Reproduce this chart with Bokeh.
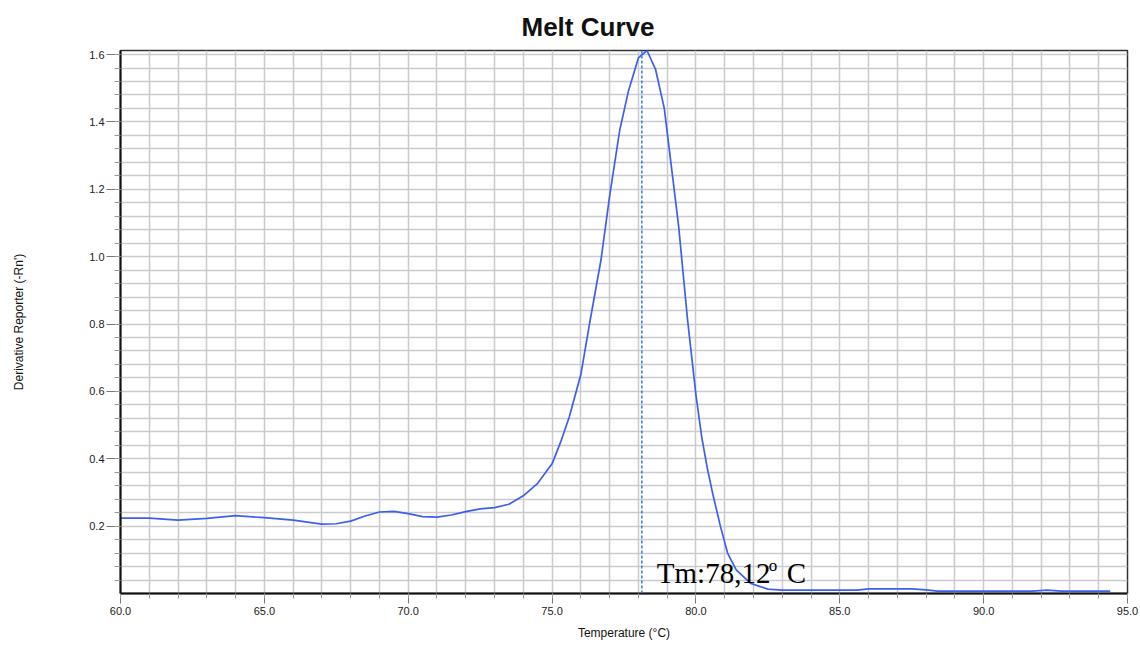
import numpy as np
from bokeh.plotting import figure
from bokeh.models import Range1d, FixedTicker, PrintfTickFormatter, Span, Label
from bokeh.embed import file_html
from bokeh.resources import INLINE

# Melt curve: temperature (°C) vs derivative reporter (-Rn')
temperature = [60.0, 61.0, 62.0, 63.0, 64.0, 65.0, 66.0, 67.0, 67.5, 68.0,
               68.5, 69.0, 69.5, 70.0, 70.5, 71.0, 71.5, 72.0, 72.5, 73.0,
               73.5, 74.0, 74.5, 75.0, 75.3, 75.6, 76.0, 76.3, 76.7, 77.0,
               77.35, 77.65, 78.0, 78.3, 78.6, 78.9, 79.1, 79.4, 79.7, 80.0,
               80.2, 80.4, 80.6, 80.85, 81.1, 81.4, 81.9, 82.5, 83.0, 84.0,
               85.0, 85.6, 86.0, 87.5, 88.0, 88.4, 89.0, 90.0, 91.0, 91.7,
               92.2, 92.7, 93.5, 94.4]
derivative = [0.224, 0.224, 0.218, 0.223, 0.231, 0.225, 0.218, 0.206, 0.207, 0.215,
              0.230, 0.242, 0.244, 0.237, 0.228, 0.227, 0.233, 0.243, 0.251, 0.255,
              0.265, 0.290, 0.327, 0.385, 0.450, 0.525, 0.650, 0.800, 0.990, 1.180,
              1.375, 1.490, 1.590, 1.612, 1.555, 1.440, 1.300, 1.090, 0.820, 0.590,
              0.465, 0.370, 0.290, 0.200, 0.120, 0.070, 0.030, 0.013, 0.010, 0.010,
              0.010, 0.010, 0.014, 0.014, 0.011, 0.007, 0.007, 0.007, 0.007, 0.007,
              0.010, 0.007, 0.007, 0.007]

# Melting temperature marker
tm = 78.12

x_major = [60, 65, 70, 75, 80, 85, 90, 95]
y_major = [0.2, 0.4, 0.6, 0.8, 1.0, 1.2, 1.4, 1.6]

x_lo, x_hi = 60.0, 95.0
y_lo, y_hi = 0.0, 1.612

x_minor = [float(v) for v in np.arange(x_lo, x_hi + 0.5, 1.0)]
y_minor = [round(float(v), 2) for v in np.arange(0.04, 1.6001, 0.04)]

LABEL_FONT = "Liberation Sans"
GRID = "#cbcbcb"

p = figure(width=1140, height=646,
           x_range=Range1d(x_lo, x_hi), y_range=Range1d(y_lo, y_hi),
           output_backend="svg", toolbar_location=None,
           min_border_left=120, min_border_right=13,
           min_border_top=49, min_border_bottom=53,
           background_fill_color="white", border_fill_color="white")

p.title.text = "Melt Curve"
p.title.text_font = LABEL_FONT
p.title.text_font_size = "26px"
p.title.text_font_style = "bold"
p.title.text_color = "#111111"
p.title.align = "left"
p.title.offset = 401
p.title.standoff = 18

p.outline_line_color = "#333333"
p.outline_line_width = 1.5

# grid at every minor step
p.xgrid.ticker = FixedTicker(ticks=x_minor)
p.ygrid.ticker = FixedTicker(ticks=y_minor)
for g in (p.xgrid[0], p.ygrid[0]):
    g.grid_line_color = GRID
    g.grid_line_width = 1.5

xa = p.xaxis[0]
xa.ticker = FixedTicker(ticks=x_major, minor_ticks=x_minor)
xa.formatter = PrintfTickFormatter(format="%.1f")
xa.axis_label = "Temperature (°C)"
xa.major_tick_out = 10
xa.major_tick_in = 0
xa.minor_tick_out = 5
xa.minor_tick_in = 0
xa.major_label_standoff = 3
xa.axis_label_standoff = 8

ya = p.yaxis[0]
ya.ticker = FixedTicker(ticks=y_major, minor_ticks=y_minor)
ya.formatter = PrintfTickFormatter(format="%.1f")
ya.axis_label = "Derivative Reporter (-Rn')"
ya.major_tick_out = 14
ya.major_tick_in = 0
ya.minor_tick_out = 6
ya.minor_tick_in = 0
ya.major_label_standoff = 2
ya.axis_label_standoff = 60

for ax in (xa, ya):
    ax.axis_line_color = "#111111"
    ax.axis_line_width = 2
    ax.major_tick_line_color = "#777777"
    ax.minor_tick_line_color = "#999999"
    ax.major_label_text_font = LABEL_FONT
    ax.major_label_text_font_size = "11px"
    ax.major_label_text_color = "#222222"
    ax.axis_label_text_font = LABEL_FONT
    ax.axis_label_text_font_size = "12px"
    ax.axis_label_text_font_style = "normal"
    ax.axis_label_text_color = "#111111"

# Tm marker line
p.add_layout(Span(location=tm, dimension="height", line_color="#3378e8",
                  line_dash="3 2", line_width=1.5))

# melt curve
p.line(temperature, derivative, line_color="#3c5ff0", line_width=1.7)

# Tm annotation: "Tm:78,12" + superscript o + "C"
tm_text = "Tm:" + f"{tm:.2f}".replace(".", ",")
SERIF = "Liberation Serif"
p.add_layout(Label(x=tm, y=y_lo, x_offset=15, y_offset=21, text=tm_text,
                   text_font=SERIF, text_font_size="29px", text_color="black",
                   text_baseline="alphabetic"))
p.add_layout(Label(x=tm, y=y_lo, x_offset=127, y_offset=28, text="o",
                   text_font=SERIF, text_font_size="17px", text_color="black",
                   text_baseline="alphabetic"))
p.add_layout(Label(x=tm, y=y_lo, x_offset=145, y_offset=21, text="C",
                   text_font=SERIF, text_font_size="29px", text_color="black",
                   text_baseline="alphabetic"))

open("out.html", "w").write(file_html(p, INLINE))
